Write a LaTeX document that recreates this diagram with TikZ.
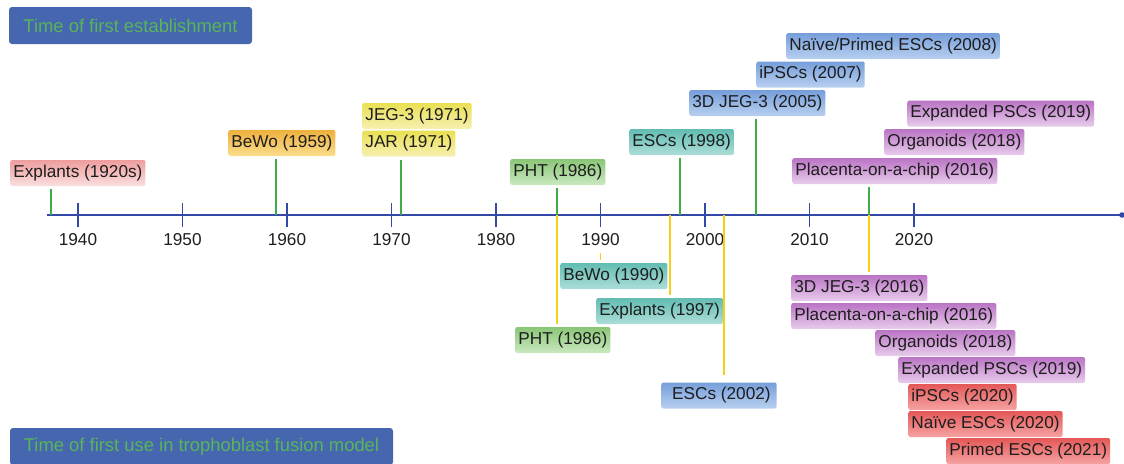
\documentclass[tikz,border=0pt]{standalone}
\usepackage{fontspec}
\setmainfont{Liberation Sans}
\usetikzlibrary{calc}
\definecolor{axisblue}{RGB}{52,72,168}
\definecolor{headblue}{RGB}{70,102,176}
\definecolor{headgreen}{RGB}{88,182,86}
\definecolor{stemgreen}{RGB}{64,172,72}
\definecolor{stemyellow}{RGB}{246,208,24}
\definecolor{labtext}{RGB}{30,30,30}

\begin{document}
\begin{tikzpicture}[x=0.5pt, y=-0.5pt,
        era/.style={anchor=west, rounded corners=1pt, inner xsep=1.5pt, inner ysep=0pt,
                    minimum height=13pt, text=labtext, font=\fontsize{8.6}{10}\selectfont},
        pinkbox/.style={era, top color={rgb,255:red,238;green,158;blue,158}, bottom color={rgb,255:red,250;green,222;blue,222}},
        orangebox/.style={era, top color={rgb,255:red,238;green,176;blue,62}, bottom color={rgb,255:red,250;green,222;blue,140}},
        yellowbox/.style={era, top color={rgb,255:red,234;green,224;blue,82}, bottom color={rgb,255:red,246;green,240;blue,178}},
        greenbox/.style={era, top color={rgb,255:red,138;green,198;blue,118}, bottom color={rgb,255:red,202;green,232;blue,192}},
        tealbox/.style={era, top color={rgb,255:red,98;green,188;blue,178}, bottom color={rgb,255:red,172;green,222;blue,216}},
        bluebox/.style={era, top color={rgb,255:red,118;green,158;blue,218}, bottom color={rgb,255:red,184;green,208;blue,240}},
        purplebox/.style={era, top color={rgb,255:red,186;green,116;blue,196}, bottom color={rgb,255:red,232;green,204;blue,236}},
        redbox/.style={era, top color={rgb,255:red,228;green,88;blue,88}, bottom color={rgb,255:red,246;green,162;blue,162}},
        header/.style={fill=headblue, rounded corners=1.5pt, minimum height=18.5pt,
                       text=headgreen, font=\fontsize{9.2}{11}\selectfont},
        upstem/.style={stemgreen, line width=0.75pt, shorten >=1.5pt},
        downstem/.style={stemyellow, line width=0.75pt, shorten >=1.5pt},
        tick/.style={axisblue, line width=0.8pt},
        yearlab/.style={text=labtext, font=\fontsize{8.6}{10}\selectfont}
      ]
        \useasboundingbox (0,0) rectangle (1124,463);

        % headers
        \node[header, minimum width=121.5pt] (hdfirst) at (130.5,25.5) {Time of first establishment};
        \node[header, minimum width=191.5pt] (hdfusion) at (201.5,446.5) {Time of first use in trophoblast fusion model};

        % axis
        \coordinate (axstart) at (47,215);
        \coordinate (axend) at (1122,215);
        \draw[axisblue, line width=1pt] (axstart) -- (axend);
        \fill[axisblue] (axend) circle (1.4pt);
        \foreach \yr in {1940,1950,...,2020} {
          \draw[tick] ({78+(\yr-1940)*10.45},203) -- ++(0,24);
          \node[yearlab] (y\yr) at ({78+(\yr-1940)*10.45},240) {\yr};
        }

        % first establishment (above)
        \node[pinkbox]   (expl20) at (10,173)    {Explants (1920s)};
        \node[orangebox] (bewo59) at (228,143)   {BeWo (1959)};
        \node[yellowbox] (jeg71)  at (362,116)   {JEG-3 (1971)};
        \node[yellowbox] (jar71)  at (362,143.5) {JAR (1971)};
        \node[greenbox]  (pht86)  at (510,172)   {PHT (1986)};
        \node[tealbox]   (esc98)  at (629,142)   {ESCs (1998)};
        \node[bluebox]   (jeg05)  at (689,103)   {3D JEG-3 (2005)};
        \node[bluebox]   (ipsc07) at (756,74.5)  {iPSCs (2007)};
        \node[bluebox]   (naive08) at (786,46)   {Naïve/Primed ESCs (2008)};
        \node[purplebox] (exp19)  at (907,113.5) {Expanded PSCs (2019)};
        \node[purplebox] (org18)  at (884,142)   {Organoids (2018)};
        \node[purplebox] (chip16) at (792,171)   {Placenta-on-a-chip (2016)};

        \coordinate (t1920) at (51,215);
        \coordinate (t1959) at (276,215);
        \coordinate (t1971) at (401,215);
        \coordinate (t1986) at (557,215);
        \coordinate (t1998) at (680,215);
        \coordinate (t2005) at (756,215);
        \coordinate (t2016) at (869,215);
        \draw[upstem] (t1920) -- (t1920 |- expl20.south);
        \draw[upstem] (t1959) -- (t1959 |- bewo59.south);
        \draw[upstem] (t1971) -- (t1971 |- jar71.south);
        \draw[upstem] (t1986) -- (t1986 |- pht86.south);
        \draw[upstem] (t1998) -- (t1998 |- esc98.south);
        \draw[upstem] (t2005) -- (t2005 |- jeg05.south);
        \draw[upstem] (t2016) -- (t2016 |- chip16.south);

        % first use in fusion model (below)
        \node[tealbox]   (bewo90)  at (560,276)   {BeWo (1990)};
        \node[tealbox]   (expl97)  at (596,311)   {Explants (1997)};
        \node[greenbox]  (pht86b)  at (515,340)   {PHT (1986)};
        \node[bluebox, inner xsep=3pt] (esc02) at (661,395.5) {~ESCs (2002)};
        \node[purplebox] (jeg16)   at (791,288)   {3D JEG-3 (2016)};
        \node[purplebox] (chip16b) at (791,316)   {Placenta-on-a-chip (2016)};
        \node[purplebox] (org18b)  at (875,343)   {Organoids (2018)};
        \node[purplebox] (exp19b)  at (898,370)   {Expanded PSCs (2019)};
        \node[redbox]    (ipsc20)  at (908,397)   {iPSCs (2020)};
        \node[redbox]    (naive20) at (908,424)   {Naïve ESCs (2020)};
        \node[redbox]    (primed21) at (946,451)  {Primed ESCs (2021)};

        \coordinate (t1997) at (670,215);
        \coordinate (t2002) at (724,215);
        \draw[downstem] (t1986) -- (t1986 |- pht86b.north);
        \draw[downstem] (y1990.south) -- (y1990.south |- bewo90.north);
        \draw[downstem] (t1997) -- (t1997 |- expl97.north);
        \draw[downstem] (t2002) -- ($(t2002 |- esc02.north)+(0,-4)$);
        \draw[downstem] (t2016) -- (t2016 |- jeg16.north);
      \end{tikzpicture}
\end{document}
